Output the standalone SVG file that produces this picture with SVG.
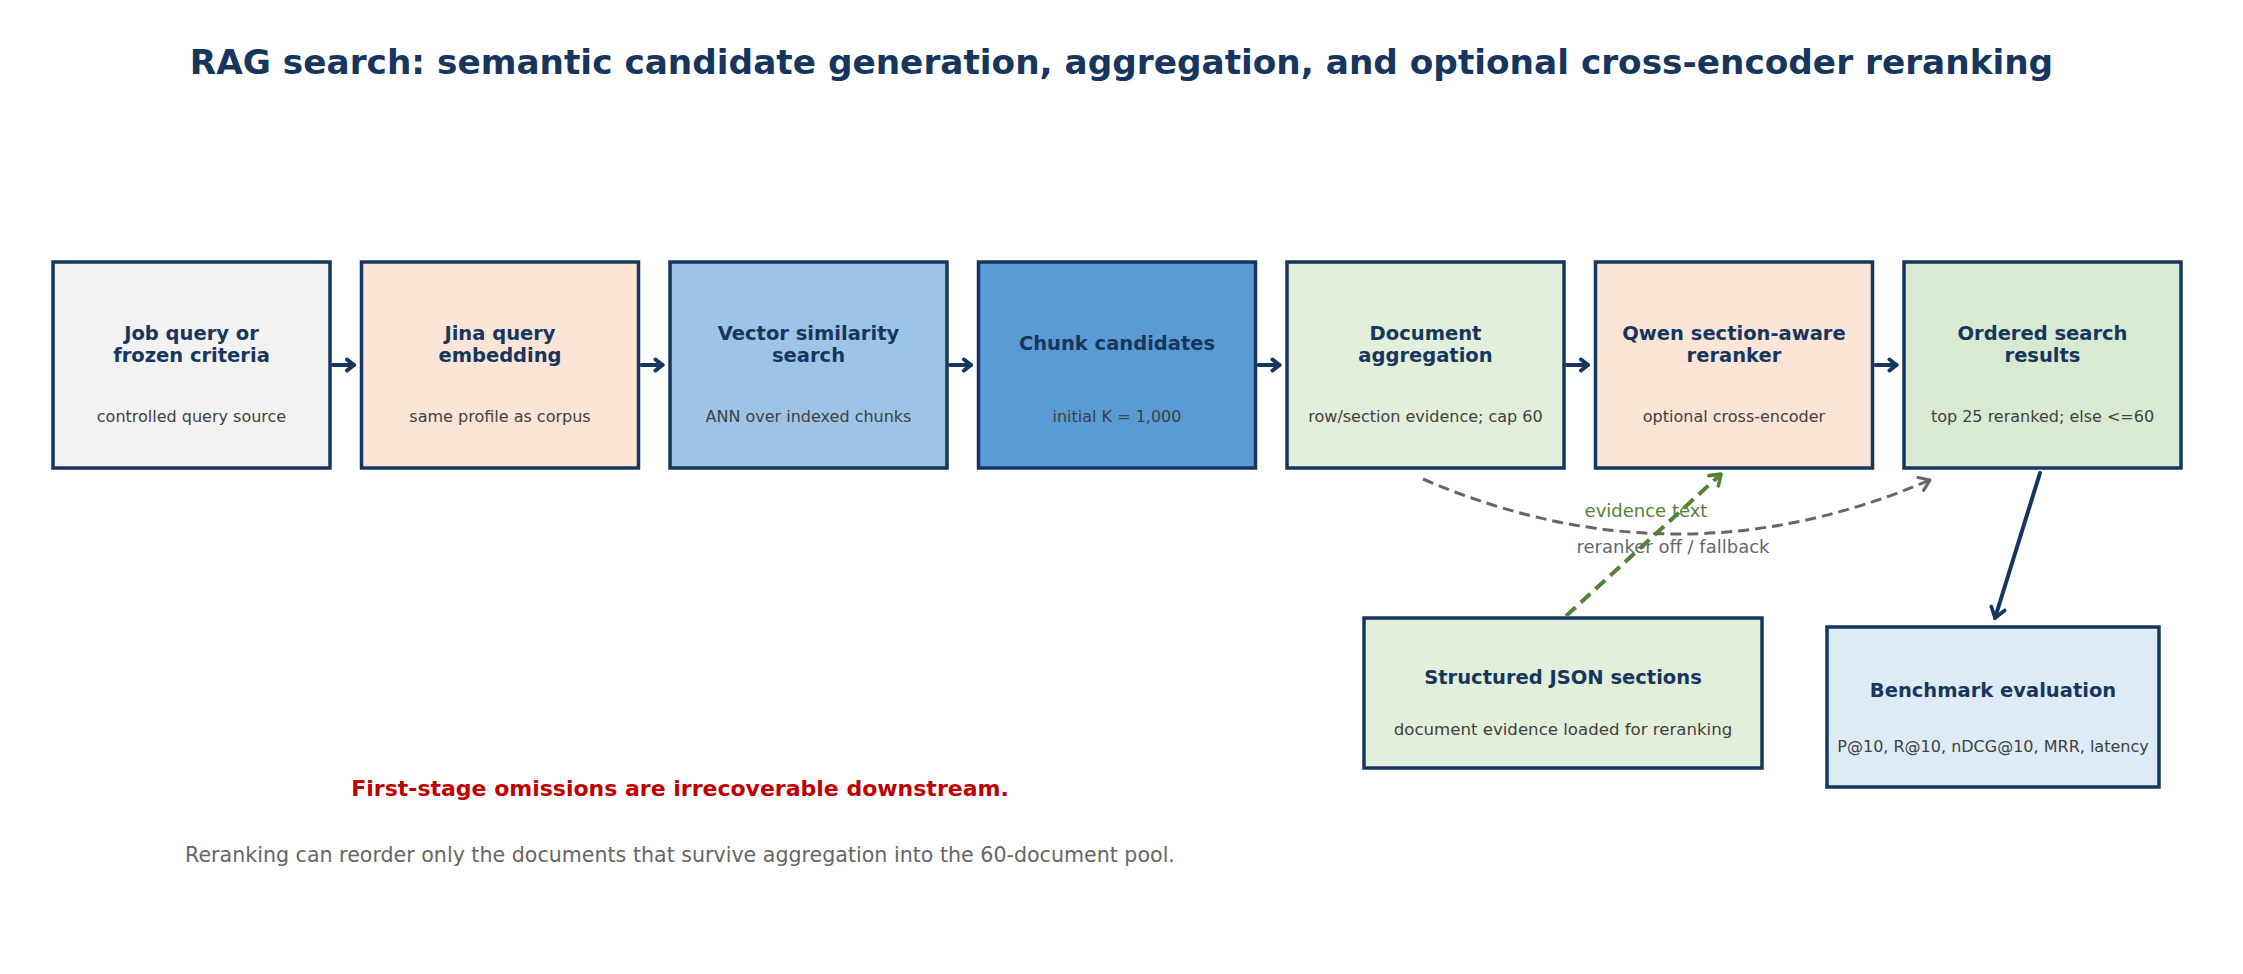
<svg xmlns="http://www.w3.org/2000/svg" width="2243" height="974" viewBox="0 0 2243 974">
<style>
.box{stroke:#17365d;stroke-width:3.5}
.ttl{font-family:"DejaVu Sans",sans-serif;font-weight:bold;font-size:19.5px;fill:#17365d;text-anchor:middle}
.sub{font-family:"DejaVu Sans",sans-serif;font-size:16px;fill:#404040;text-anchor:middle}
.arr{stroke:#17365d;stroke-width:4;fill:none;stroke-linecap:round}
</style>
<defs>
<marker id="mNavyS" viewBox="0 0 14 16" refX="10" refY="8" markerWidth="14" markerHeight="16" markerUnits="userSpaceOnUse" orient="auto">
<path d="M3,2.5 L10,8 L3,13.5" fill="none" stroke="#17365d" stroke-width="4" stroke-linecap="round" stroke-linejoin="round"/>
</marker>
<marker id="mNavy" viewBox="0 0 16 20" refX="13" refY="10" markerWidth="16" markerHeight="20" markerUnits="userSpaceOnUse" orient="auto">
<path d="M3,3 L13,10 L3,17" fill="none" stroke="#17365d" stroke-width="3.6" stroke-linecap="round" stroke-linejoin="round"/>
</marker>
<marker id="mGreen" viewBox="0 0 16 20" refX="13" refY="10" markerWidth="16" markerHeight="20" markerUnits="userSpaceOnUse" orient="auto">
<path d="M3,3 L13,10 L3,17" fill="none" stroke="#538135" stroke-width="3.6" stroke-linecap="round" stroke-linejoin="round"/>
</marker>
<marker id="mGray" viewBox="0 0 16 20" refX="13" refY="10" markerWidth="16" markerHeight="20" markerUnits="userSpaceOnUse" orient="auto">
<path d="M3,3 L13,10 L3,17" fill="none" stroke="#666666" stroke-width="3.2" stroke-linecap="round" stroke-linejoin="round"/>
</marker>
</defs>
<rect width="2243" height="974" fill="#ffffff"/>
<text x="1121.5" y="74" font-family="DejaVu Sans, sans-serif" font-weight="bold" font-size="34.3" fill="#17365d" text-anchor="middle">RAG search: semantic candidate generation, aggregation, and optional cross-encoder reranking</text>

<g id="node-query">
<rect class="box" x="53" y="262" width="277" height="206" fill="#f2f2f2"/>
<text class="ttl" x="191.5" y="340">Job query or</text>
<text class="ttl" x="191.5" y="362">frozen criteria</text>
<text class="sub" x="191.5" y="422">controlled query source</text>
</g>
<g id="node-embed">
<rect class="box" x="361.5" y="262" width="277" height="206" fill="#fce4d6"/>
<text class="ttl" x="500" y="340">Jina query</text>
<text class="ttl" x="500" y="362">embedding</text>
<text class="sub" x="500" y="422">same profile as corpus</text>
</g>
<g id="node-vector">
<rect class="box" x="670" y="262" width="277" height="206" fill="#9dc3e6"/>
<text class="ttl" x="808.5" y="340">Vector similarity</text>
<text class="ttl" x="808.5" y="362">search</text>
<text class="sub" x="808.5" y="422">ANN over indexed chunks</text>
</g>
<g id="node-chunks">
<rect class="box" x="978.5" y="262" width="277" height="206" fill="#5b9bd5"/>
<text class="ttl" x="1117" y="350">Chunk candidates</text>
<text class="sub" x="1117" y="422">initial K = 1,000</text>
</g>
<g id="node-agg">
<rect class="box" x="1287" y="262" width="277" height="206" fill="#e2efda"/>
<text class="ttl" x="1425.5" y="340">Document</text>
<text class="ttl" x="1425.5" y="362">aggregation</text>
<text class="sub" x="1425.5" y="422">row/section evidence; cap 60</text>
</g>
<g id="node-rerank">
<rect class="box" x="1595.5" y="262" width="277" height="206" fill="#fce4d6"/>
<text class="ttl" x="1734" y="340">Qwen section-aware</text>
<text class="ttl" x="1734" y="362">reranker</text>
<text class="sub" x="1734" y="422">optional cross-encoder</text>
</g>
<g id="node-results">
<rect class="box" x="1904" y="262" width="277" height="206" fill="#d9ead3"/>
<text class="ttl" x="2042.5" y="340">Ordered search</text>
<text class="ttl" x="2042.5" y="362">results</text>
<text class="sub" x="2042.5" y="422">top 25 reranked; else &lt;=60</text>
</g>
<g id="node-json">
<rect class="box" x="1364" y="618" width="398" height="150" fill="#e2efda"/>
<text class="ttl" x="1563" y="684">Structured JSON sections</text>
<text class="sub" x="1563" y="735" style="font-size:16.6px">document evidence loaded for reranking</text>
</g>
<g id="node-bench">
<rect class="box" x="1827" y="627" width="332" height="160" fill="#ddebf7"/>
<text class="ttl" x="1993" y="697">Benchmark evaluation</text>
<text class="sub" x="1993" y="752">P@10, R@10, nDCG@10, MRR, latency</text>
</g>

<g id="connectors">
<line class="arr" x1="333" y1="365" x2="354" y2="365" marker-end="url(#mNavyS)"/>
<line class="arr" x1="641.5" y1="365" x2="662.5" y2="365" marker-end="url(#mNavyS)"/>
<line class="arr" x1="950" y1="365" x2="971" y2="365" marker-end="url(#mNavyS)"/>
<line class="arr" x1="1258.5" y1="365" x2="1279.5" y2="365" marker-end="url(#mNavyS)"/>
<line class="arr" x1="1567" y1="365" x2="1588" y2="365" marker-end="url(#mNavyS)"/>
<line class="arr" x1="1875.5" y1="365" x2="1896.5" y2="365" marker-end="url(#mNavyS)"/>
<path d="M1423,479 Q1676.5,588.5 1930,480" fill="none" stroke="#666666" stroke-width="3" stroke-dasharray="11,6" marker-end="url(#mGray)"/>
<line x1="1566" y1="616" x2="1721" y2="474" stroke="#538135" stroke-width="4" stroke-dasharray="13,7" marker-end="url(#mGreen)"/>
<line class="arr" x1="2040" y1="473" x2="1995" y2="618" stroke-width="3.8" marker-end="url(#mNavy)"/>
<text x="1646" y="517" font-family="DejaVu Sans, sans-serif" font-size="18" fill="#538135" text-anchor="middle">evidence text</text>
<text x="1673" y="553" font-family="DejaVu Sans, sans-serif" font-size="18" fill="#666666" text-anchor="middle">reranker off / fallback</text>
</g>

<text x="680" y="796" font-family="DejaVu Sans, sans-serif" font-weight="bold" font-size="22" fill="#c00000" text-anchor="middle">First-stage omissions are irrecoverable downstream.</text>
<text x="680" y="862" font-family="DejaVu Sans, sans-serif" font-size="20.6" fill="#666666" text-anchor="middle">Reranking can reorder only the documents that survive aggregation into the 60-document pool.</text>
</svg>
